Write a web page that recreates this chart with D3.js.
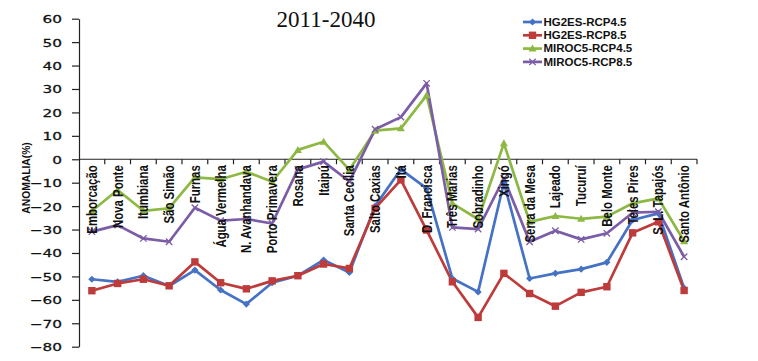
<!DOCTYPE html>
<html><head><meta charset="utf-8">
<script src="https://cdn.jsdelivr.net/npm/d3@7"></script>
<style>body{margin:0;background:#fff}</style>
</head><body>
<svg id="c" width="758" height="361"></svg>
<script>
const categories = ["Emborcação","Nova Ponte","Itumbiana","São Simão","Furnas","Água Vermelha","N. Avanhandava","Porto Primavera","Rosana","Itaipú","Santa Cecília","Salto Caxias","Itá","D. Francisca","Três Marias","Sobradinho","Xingó","Serra da Mesa","Lajeado","Tucuruí","Belo Monte","Teles Pires","S. L. Tapajós","Santo Antônio"];
const hg2esRcp45 = [-51.2,-52.3,-49.7,-54.1,-47.3,-55.8,-61.8,-52.7,-49.7,-43.0,-48.3,-20.0,-4.3,-12.4,-50.9,-56.6,-10.0,-50.9,-48.7,-46.9,-44.0,-25.9,-23.1,-55.0];
const hg2esRcp85 = [-56.1,-53.0,-51.2,-54.0,-43.8,-52.7,-55.3,-51.9,-49.7,-44.7,-46.6,-21.0,-8.8,-30.2,-52.3,-67.5,-48.7,-57.3,-62.7,-56.8,-54.4,-31.4,-26.7,-56.0];
const miroc5Rcp45 = [-22.1,-13.1,-22.0,-20.9,-7.7,-8.5,-5.3,-9.6,4.0,7.5,-4.5,12.2,13.2,27.3,-18.8,-25.6,6.8,-26.7,-24.2,-25.4,-24.5,-18.8,-16.7,-35.0];
const miroc5Rcp85 = [-30.9,-28.1,-33.8,-35.2,-20.7,-26.2,-25.5,-27.4,-4.3,-1.0,-9.5,12.8,18.0,32.4,-29.1,-29.8,-8.1,-35.2,-30.5,-34.2,-31.6,-22.8,-22.4,-41.6];
const yTicks = [60,50,40,30,20,10,0,-10,-20,-30,-40,-50,-60,-70,-80];
const seriesNames = ["HG2ES-RCP4.5","HG2ES-RCP8.5","MIROC5-RCP4.5","MIROC5-RCP8.5"];
const title = "2011-2040";
const yTitle = "ANOMALIA(%)";

const series = [
  {name: seriesNames[0], values: hg2esRcp45, color: "#4572C4", marker: "diamond"},
  {name: seriesNames[1], values: hg2esRcp85, color: "#BE3B3B", marker: "square"},
  {name: seriesNames[2], values: miroc5Rcp45, color: "#8DB843", marker: "triangle"},
  {name: seriesNames[3], values: miroc5Rcp85, color: "#7B5CA6", marker: "x"}
];

const svg = d3.select("#c");
const L = 79, R = 697, T = 18.7, B = 346.7;
const x = d3.scalePoint().domain(categories).range([L, R]).padding(0.5);
const y = d3.scaleLinear().domain([-80, 60]).range([B, T]);
const step = x.step();

// title
svg.append("text").attr("x", 326).attr("y", 27).attr("text-anchor", "middle")
  .attr("font-family", "Liberation Serif, Times New Roman, serif").attr("font-size", 23)
  .attr("fill", "#111").text(title);

// y axis
const yAxis = svg.append("g").attr("transform", `translate(${L},0)`)
  .call(d3.axisLeft(y).tickValues(yTicks).tickSize(7).tickSizeOuter(0).tickFormat(d3.format("d")));
yAxis.select(".domain").attr("stroke", "#222").attr("stroke-width", 1.2);
yAxis.selectAll(".tick line").attr("stroke", "#222").attr("stroke-width", 1.2);
yAxis.selectAll(".tick text").attr("x", 0).attr("dy", "0.36em")
  .attr("transform", "translate(-17,0) scale(1.42,1)")
  .attr("font-family", "DejaVu Sans, Verdana, sans-serif").attr("font-size", 10.8)
  .attr("fill", "#111").attr("stroke", "#111").attr("stroke-width", 0.25);

// y title
svg.append("text").attr("transform", "translate(30,178) scale(1.15,1) rotate(-90)")
  .attr("text-anchor", "middle").attr("font-family", "Liberation Sans, Arial, sans-serif")
  .attr("font-weight", "bold").attr("font-size", 10.3).attr("fill", "#111").text(yTitle);

// x axis at zero
const y0 = y(0);
svg.append("line").attr("x1", L).attr("x2", R).attr("y1", y0).attr("y2", y0)
  .attr("stroke", "#222").attr("stroke-width", 1.2);
svg.append("g").selectAll("line").data(d3.range(1, categories.length + 1)).join("line")
  .attr("x1", i => L + i * step).attr("x2", i => L + i * step)
  .attr("y1", y0).attr("y2", y0 + 5).attr("stroke", "#222").attr("stroke-width", 1.2);

// lines
const line = d3.line().x((d, i) => x(categories[i])).y(d => y(d));
series.forEach(s => {
  svg.append("path").datum(s.values).attr("d", line).attr("fill", "none")
    .attr("stroke", s.color).attr("stroke-width", 2.7).attr("stroke-linejoin", "round");
});

function drawMarker(g, type, color, cx, cy) {
  if (type === "diamond") {
    g.append("path").attr("d", `M${cx},${cy-3.6}L${cx+3.6},${cy}L${cx},${cy+3.6}L${cx-3.6},${cy}Z`).attr("fill", color);
  } else if (type === "square") {
    g.append("rect").attr("x", cx-3.7).attr("y", cy-3.7).attr("width", 7.4).attr("height", 7.4).attr("fill", color);
  } else if (type === "triangle") {
    g.append("path").attr("d", `M${cx},${cy-4}L${cx+4},${cy+3}L${cx-4},${cy+3}Z`).attr("fill", color);
  } else {
    g.append("path").attr("d", `M${cx-3.2},${cy-3.2}L${cx+3.2},${cy+3.2}M${cx+3.2},${cy-3.2}L${cx-3.2},${cy+3.2}`)
      .attr("stroke", color).attr("stroke-width", 1.3);
  }
}
series.forEach(s => {
  const g = svg.append("g");
  s.values.forEach((v, i) => drawMarker(g, s.marker, s.color, x(categories[i]), y(v)));
});

// category labels (drawn on top)
svg.append("g").selectAll("text").data(categories).join("text")
  .attr("transform", d => `translate(${x(d)},${y0 + 6}) scale(1.25,1) rotate(-90)`)
  .attr("text-anchor", "end").attr("dy", "0.35em")
  .attr("font-family", "Liberation Sans, Arial, sans-serif").attr("font-weight", "bold")
  .attr("font-size", 11.4).attr("fill", "#111").text(d => d);

// legend
const lg = svg.append("g");
series.forEach((s, i) => {
  const cy = 22 + i * 13.3;
  lg.append("line").attr("x1", 523).attr("x2", 542).attr("y1", cy).attr("y2", cy)
    .attr("stroke", s.color).attr("stroke-width", 2.7);
  drawMarker(lg, s.marker, s.color, 532.5, cy);
  lg.append("text").attr("transform", `translate(543.5,${cy}) scale(1.15,1)`).attr("dy", "0.36em")
    .attr("font-family", "Liberation Sans, Arial, sans-serif").attr("font-weight", "bold")
    .attr("font-size", 10).attr("fill", "#111").text(s.name);
});
</script>
</body></html>
